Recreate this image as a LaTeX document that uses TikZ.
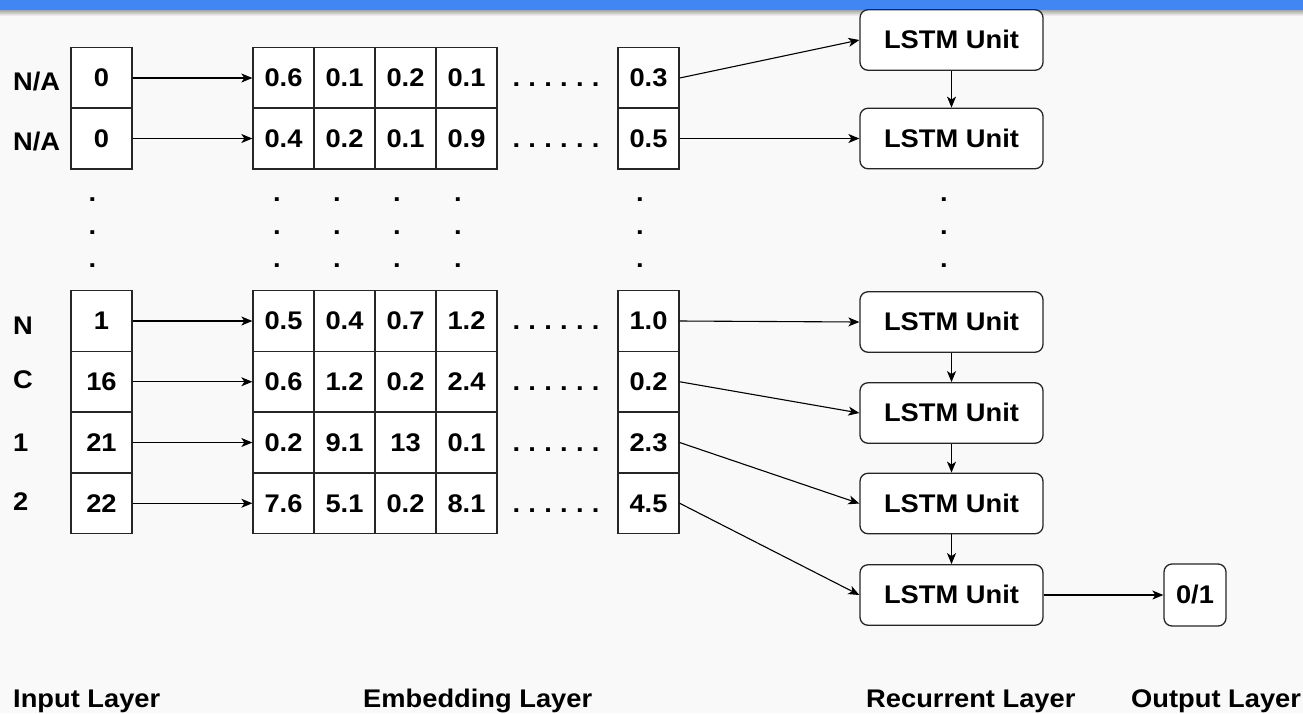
\documentclass[tikz,border=0pt]{standalone}
\usepackage{fontspec}
\setmainfont{Liberation Sans}[FakeStretch=1.07]
\usetikzlibrary{arrows.meta}
\definecolor{bgc}{HTML}{F9F9F9}
\definecolor{barblue}{HTML}{4286F4}
\definecolor{lc}{HTML}{262626}
\newcommand\myrowdots{.\hskip8.3pt.\hskip8.3pt.\hskip8.3pt.\hskip8.3pt.\hskip8.3pt.}
\begin{document}
\begin{tikzpicture}[x=1pt,y=-1pt,
  every node/.style={font=\fontsize{25.5}{30}\selectfont\bfseries, text=black, inner sep=0pt},
  cell/.style={draw=lc, line width=1.3pt, fill=white, minimum width=61pt, minimum height=60.75pt, text height=17.9pt, text depth=0pt},
  lstm/.style={draw=lc, line width=1.3pt, fill=white, rounded corners=8pt, minimum width=183pt, minimum height=60.5pt, text height=17.9pt, text depth=0pt},
  outbox/.style={draw=lc, line width=1.3pt, fill=white, rounded corners=8pt, minimum width=62pt, minimum height=62pt, text height=17.9pt, text depth=0pt},
  rowdots/.style={text height=17.9pt, text depth=0pt},
  vdot/.style={anchor=base},
  lab/.style={anchor=west, text height=17.9pt, text depth=0pt},
  layer/.style={anchor=base west},
  arr/.style={draw=black, line width=1.1pt, -{Stealth[length=11pt,width=9pt,inset=3pt]}}]
% background and bar
\fill[bgc] (0,0) rectangle (1303,713);
\useasboundingbox (0,0) rectangle (1303,713);
\shade[top color=black!40, bottom color=bgc] (0,9) rectangle (1303,16);
\fill[barblue] (0,0) rectangle (1303,9.5);
% rows
\foreach \r/\y/\inp/\ea/\eb/\ec/\ed/\el in {1/78/0/0.6/0.1/0.2/0.1/0.3, 2/138.5/0/0.4/0.2/0.1/0.9/0.5, 3/321/1/0.5/0.4/0.7/1.2/1.0, 4/381.75/16/0.6/1.2/0.2/2.4/0.2, 5/442.5/21/0.2/9.1/13/0.1/2.3, 6/503.25/22/7.6/5.1/0.2/8.1/4.5}{
  \node[cell] (in\r) at (101.5,\y) {\inp};
  \node[cell] (e\r a) at (283.5,\y) {\ea};
  \node[cell] (e\r b) at (344.5,\y) {\eb};
  \node[cell] (e\r c) at (405.5,\y) {\ec};
  \node[cell] (e\r d) at (466.5,\y) {\ed};
  \node[rowdots] (d\r) at (556,\y) {\myrowdots};
  \node[cell] (l\r) at (648.5,\y) {\el};
  \draw[arr] (in\r) -- (e\r a);
}
% row labels
\node[lab] (t1) at (13,82) {N/A};
\node[lab] (t2) at (13,142) {N/A};
\node[lab] (t3) at (13,326) {N};
\node[lab] (t4) at (13,380) {C};
\node[lab] (t5) at (13,443) {1};
\node[lab] (t6) at (13,502) {2};
% vertical dots
\foreach \x [count=\i] in {92.5,277,337,397,458,640,944}{
  \foreach \yy [count=\j] in {200,233,266}{
    \node[vdot] (vd\i-\j) at (\x,\yy+1.7) {.};
  }
}
% LSTM units
\node[lstm] (u1) at (951.5,40) {LSTM Unit};
\node[lstm] (u2) at (951.5,138.5) {LSTM Unit};
\node[lstm] (u3) at (951.5,322) {LSTM Unit};
\node[lstm] (u4) at (951.5,413) {LSTM Unit};
\node[lstm] (u5) at (951.5,503.5) {LSTM Unit};
\node[lstm] (u6) at (951.5,595) {LSTM Unit};
\node[outbox] (o) at (1195,595) {0/1};
% connectors
\draw[arr] (l1.east) -- (u1.west);
\draw[arr] (l2.east) -- (u2.west);
\draw[arr] (l3.east) -- (u3.west);
\draw[arr] (l4.east) -- (u4.west);
\draw[arr] (l5.east) -- (u5.west);
\draw[arr] (l6.east) -- (u6.west);
\draw[arr] (u1) -- (u2);
\draw[arr] (u3) -- (u4);
\draw[arr] (u4) -- (u5);
\draw[arr] (u5) -- (u6);
\draw[arr] (u6) -- (o);
% layer labels
\node[layer] (L1) at (13,707) {Input Layer};
\node[layer] (L2) at (363,707) {Embedding Layer};
\node[layer] (L3) at (866,707) {Recurrent Layer};
\node[layer] (L4) at (1131,707) {Output Layer};
\end{tikzpicture}
\end{document}
